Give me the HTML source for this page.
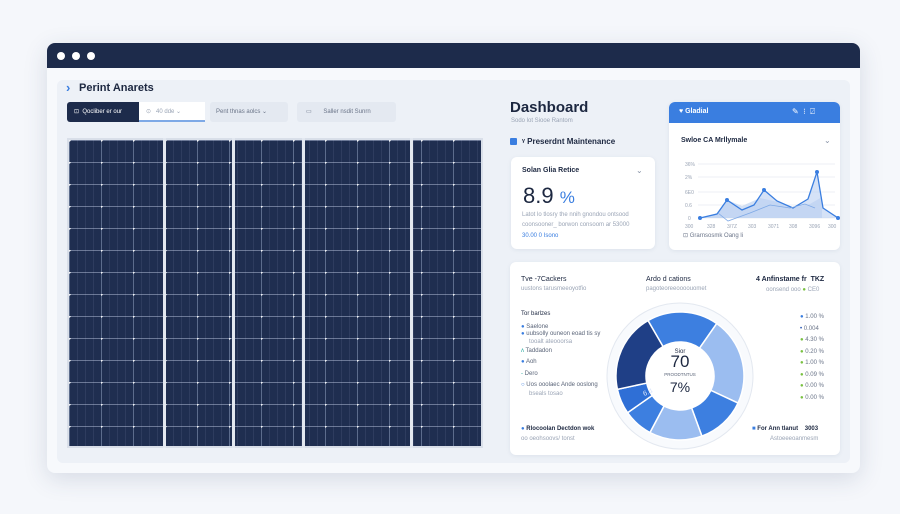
<!DOCTYPE html>
<html><head><style>
*{margin:0;padding:0;box-sizing:border-box}
body{width:900px;height:514px;background:#f5f7fb;font-family:"Liberation Sans",sans-serif;position:relative;overflow:hidden;color:#1c2740}
.a{position:absolute}
.win{left:47px;top:43px;width:813px;height:430px;background:#f7f9fc;border-radius:8px;box-shadow:0 6px 24px rgba(40,60,100,.15);overflow:hidden}
.hdr{left:0;top:0;width:813px;height:25px;background:#1d2b4b}
.dot{width:8px;height:8px;border-radius:50%;background:#fff;top:9px}
.inner{left:10px;top:37px;width:793px;height:383px;background:#edf1f7;border-radius:6px}
.t{font-size:8px;white-space:nowrap}
.g{color:#9aa4b5;font-size:6px;white-space:nowrap}
.card{background:#fff;border-radius:6px;box-shadow:0 1px 4px rgba(40,60,100,.08)}
.panel{left:67px;top:138px;width:416px;height:310px;background:#1f2e50;
background-image:radial-gradient(circle at 0 0,rgba(255,255,255,.9) 0 1.5px,transparent 2px),repeating-linear-gradient(90deg,rgba(180,195,225,.35) 0 1px,transparent 1px 32px),repeating-linear-gradient(180deg,rgba(200,210,235,.45) 0 1px,transparent 1px 22px),repeating-linear-gradient(90deg,rgba(150,165,200,.12) 0 1px,transparent 1px 8px);background-size:32px 22px,auto,auto,auto;border:2px solid #d9dfe9}
.gap{top:138px;width:3px;height:310px;background:#e3e8f0}
</style></head><body>
<div class="a win">
 <div class="a hdr"></div>
 <div class="a dot" style="left:10px"></div><div class="a dot" style="left:25px"></div><div class="a dot" style="left:40px"></div>
 <div class="a inner"></div>
</div>
<div class="a" style="left:66px;top:80px;color:#3a7ee0;font-size:13px;font-weight:bold">›</div>
<div class="a" style="left:79px;top:82px;font-size:11px;font-weight:bold;color:#1c2740">Perint Anarets</div>
<div class="a" style="left:67px;top:102px;width:72px;height:20px;background:#1d2b4b;border-radius:3px 0 0 3px"></div>
<div class="a t" style="left:74px;top:108px;color:#fff;font-size:6px">⊡ &nbsp;Qocliber er our</div>
<div class="a" style="left:139px;top:102px;width:66px;height:20px;background:#fff;border-bottom:2px solid #7ea9e6"></div>
<div class="a g" style="left:146px;top:108px">⊙ &nbsp; 40 dde ⌄</div>
<div class="a" style="left:210px;top:102px;width:78px;height:20px;background:#e4e9f1;border-radius:3px"></div>
<div class="a g" style="left:216px;top:108px;color:#6a7488">Pent thnas aolcs ⌄</div>
<div class="a" style="left:297px;top:102px;width:99px;height:20px;background:#e4e9f1;border-radius:3px"></div>
<div class="a g" style="left:306px;top:108px;color:#6a7488">▭ &nbsp; &nbsp; &nbsp; Saller nsdit Sunrn</div>
<div class="a panel"></div>
<div class="a gap" style="left:163px"></div><div class="a gap" style="left:232px"></div><div class="a gap" style="left:302px"></div><div class="a gap" style="left:410px"></div>

<div class="a" style="left:510px;top:99px;font-size:15px;font-weight:bold;color:#1c2740">Dashboard</div>
<div class="a g" style="left:511px;top:118px">Sodo lot Siooe Rantom</div>
<div class="a" style="left:510px;top:138px;width:7px;height:7px;background:#3a7ee0;border-radius:1px"></div>
<div class="a t" style="left:522px;top:137px;font-weight:bold;font-size:8px">ᵞ Preserdnt Maintenance</div>

<div class="a card" style="left:511px;top:157px;width:144px;height:92px"></div>
<div class="a t" style="left:522px;top:167px;font-weight:bold;font-size:7px">Solan Glia Retice</div>
<div class="a t" style="left:636px;top:166px;color:#8a94a8">⌄</div>
<div class="a" style="left:523px;top:183px;font-size:22px;color:#1c2740">8.9 <span style="color:#3a7ee0;font-size:17px">%</span></div>
<div class="a g" style="left:522px;top:212px">Latot lo tlosry the nnih gnondou ontsood</div>
<div class="a g" style="left:522px;top:222px">coonsooner_ borwon consoom ar 53000</div>
<div class="a g" style="left:522px;top:233px;color:#3a7ee0">30.00 0 Isono</div>

<div class="a card" style="left:669px;top:102px;width:171px;height:148px"></div>
<div class="a" style="left:669px;top:102px;width:171px;height:21px;background:#3a7ee0;border-radius:6px 6px 0 0"></div>
<div class="a t" style="left:679px;top:108px;color:#fff;font-weight:bold;font-size:7px">♥ Gladial</div>
<div class="a t" style="left:792px;top:107px;color:#fff;font-size:8px">✎ &nbsp;⁝ &nbsp;⍁</div>
<div class="a t" style="left:681px;top:137px;font-weight:bold;font-size:7px">Swloe CA Mrllymale</div>
<div class="a t" style="left:824px;top:136px;color:#8a94a8">⌄</div>
<svg class="a" style="left:680px;top:150px" width="160" height="80">
 <g stroke="#e6eaf1" stroke-width=".7"><line x1="18" y1="14" x2="155" y2="14"/><line x1="18" y1="27" x2="155" y2="27"/><line x1="18" y1="42" x2="155" y2="42"/><line x1="18" y1="55" x2="155" y2="55"/><line x1="18" y1="68" x2="155" y2="68"/></g>
 <g font-size="5" fill="#9aa4b5" font-family="Liberation Sans"><text x="5" y="16">36%</text><text x="5" y="29">2%</text><text x="5" y="44">6E0</text><text x="5" y="57">0.6</text><text x="8" y="70">0</text>
 <text x="5" y="78">300</text><text x="27" y="78">328</text><text x="47" y="78">3/7Z</text><text x="68" y="78">303</text><text x="88" y="78">3071</text><text x="109" y="78">308</text><text x="129" y="78">3096</text><text x="148" y="78">300</text></g>
 <path d="M20 68 L38 63 L47 50 L62 56 L80 48 L98 52 L112 58 L130 54 L142 47 L142 68 L20 68Z" fill="#c9d9f3" opacity=".8"/>
 <path d="M20 68 L37 64 L47 50 L62 60 L74 55 L84 40 L97 51 L113 58 L128 49 L137 25 L143 58 L160 68" fill="#b9cff2" opacity=".6"/>
 <path d="M20 68 L37 64 L47 50 L62 60 L74 55 L84 40 L97 51 L113 58 L128 49 L137 22 L143 58 L158 68" fill="none" stroke="#3a7ee0" stroke-width="1.3"/>
 <path d="M38 63 L48 71 L70 63 L90 55 L110 58 L125 54 L135 58" fill="none" stroke="#7ea9e6" stroke-width=".8"/>
 <g fill="#3a7ee0"><circle cx="20" cy="68" r="2"/><circle cx="47" cy="50" r="2"/><circle cx="84" cy="40" r="2"/><circle cx="137" cy="22" r="2"/><circle cx="158" cy="68" r="2"/></g>
</svg>
<div class="a g" style="left:683px;top:232px;color:#6a7488">⊡ Grarnsosmk Oang li</div>

<div class="a card" style="left:510px;top:262px;width:330px;height:193px"></div>
<div class="a t" style="left:521px;top:276px;font-size:7px">Tve -7Cackers</div>
<div class="a g" style="left:521px;top:286px">uustons tarusmeeoyotfio</div>
<div class="a t" style="left:646px;top:276px;font-size:7px">Ardo d cations</div>
<div class="a g" style="left:646px;top:286px">pagoteoreeoooouomet</div>
<div class="a t" style="left:756px;top:276px;font-size:7px;font-weight:bold">4 Anfinstame fr &nbsp;TKZ</div>
<div class="a g" style="left:766px;top:287px">oonsend ooo <span style="color:#7ac142">●</span> CE0</div>
<div class="a t" style="left:521px;top:311px;font-size:6px">Tor barlzes</div>
<div class="a t" style="left:521px;top:324px;font-size:6px;color:#5a6478"><span style="color:#3a7ee0">●</span> Saelone</div>
<div class="a t" style="left:521px;top:331px;font-size:6px;color:#5a6478"><span style="color:#3a7ee0">●</span> uubsolly ouneon eoad tis sy</div>
<div class="a g" style="left:529px;top:339px">tooalt ateooorsa</div>
<div class="a t" style="left:521px;top:348px;font-size:6px;color:#5a6478"><span style="color:#2aa8a0">ʌ</span> Taddadon</div>
<div class="a t" style="left:521px;top:359px;font-size:6px;color:#5a6478"><span style="color:#3a7ee0">●</span> Aoh</div>
<div class="a t" style="left:521px;top:371px;font-size:6px;color:#5a6478"><span style="color:#2aa8a0">-</span> Dero</div>
<div class="a t" style="left:521px;top:382px;font-size:6px;color:#5a6478"><span style="color:#3a7ee0">○</span> Uos ooolaec Ande ooslong</div>
<div class="a g" style="left:529px;top:391px">bseals tosao</div>
<div class="a t" style="left:521px;top:426px;font-size:6px;font-weight:bold"><span style="color:#3a7ee0">●</span> Rlocoolan Dectdon wok</div>
<div class="a g" style="left:521px;top:436px">oo oeohsoovs/ tonst</div>
<div class="a t" style="left:752px;top:426px;font-size:6px;font-weight:bold"><span style="color:#3a7ee0">■</span> For Ann tlanut &nbsp; &nbsp;3003</div>
<div class="a g" style="left:770px;top:436px">Astoeeeoanmesm</div>
<div class="a" style="left:800px;top:312px;font-size:6px;color:#6a7488;line-height:11.5px;white-space:nowrap">
<span style="color:#3a7ee0">●</span> 1.00 %<br><span style="color:#1f4fb0">•</span> 0.004<br><span style="color:#7ac142">●</span> 4.30 %<br><span style="color:#7ac142">●</span> 0.20 %<br><span style="color:#7ac142">●</span> 1.00 %<br><span style="color:#7ac142">●</span> 0.09 %<br><span style="color:#7ac142">●</span> 0.00 %<br><span style="color:#7ac142">●</span> 0.00 %</div>
<svg class="a" style="left:600px;top:296px" width="160" height="160">
 <circle cx="80" cy="80" r="73" fill="#f8fafd" stroke="#e3e8f0" stroke-width="1"/>
 <g id="d"></g>
 <circle cx="80" cy="80" r="34" fill="#fff"/>
 <text x="80" y="57" font-size="6" text-anchor="middle" fill="#1c2740" font-family="Liberation Sans">Sior</text>
 <text x="80" y="71" font-size="17" text-anchor="middle" fill="#1c2740" font-family="Liberation Sans">70</text>
 <text x="80" y="80" font-size="4.5" text-anchor="middle" fill="#5a6478" font-family="Liberation Sans">PROODTNTUS</text>
 <text x="80" y="96" font-size="14" text-anchor="middle" fill="#1c2740" font-family="Liberation Sans">7%</text>
 <text x="44" y="100" font-size="7" fill="#dbe6fa" font-family="Liberation Sans" transform="rotate(-20 44 100)">6.4</text>
</svg>
<script>
var segs=[[-120,-55,"#3d7fe0"],[-55,25,"#9bbdf0"],[25,70,"#3d7fe0"],[70,118,"#9bbdf0"],[118,145,"#3d7fe0"],[145,168,"#2f6fd6"],[168,240,"#1f3f86"]];
var g=document.getElementById("d"),cx=80,cy=80,R=64,r=34,h="";
function p(a,rad){a=a*Math.PI/180;return (cx+rad*Math.cos(a)).toFixed(2)+" "+(cy+rad*Math.sin(a)).toFixed(2)}
segs.forEach(function(s){var l=(s[1]-s[0])>180?1:0;
h+='<path d="M'+p(s[0],R)+' A'+R+' '+R+' 0 '+l+' 1 '+p(s[1],R)+' L'+p(s[1],r)+' A'+r+' '+r+' 0 '+l+' 0 '+p(s[0],r)+'Z" fill="'+s[2]+'" stroke="#fff" stroke-width="1.5"/>';});
g.innerHTML=h;
</script>
</body></html>
